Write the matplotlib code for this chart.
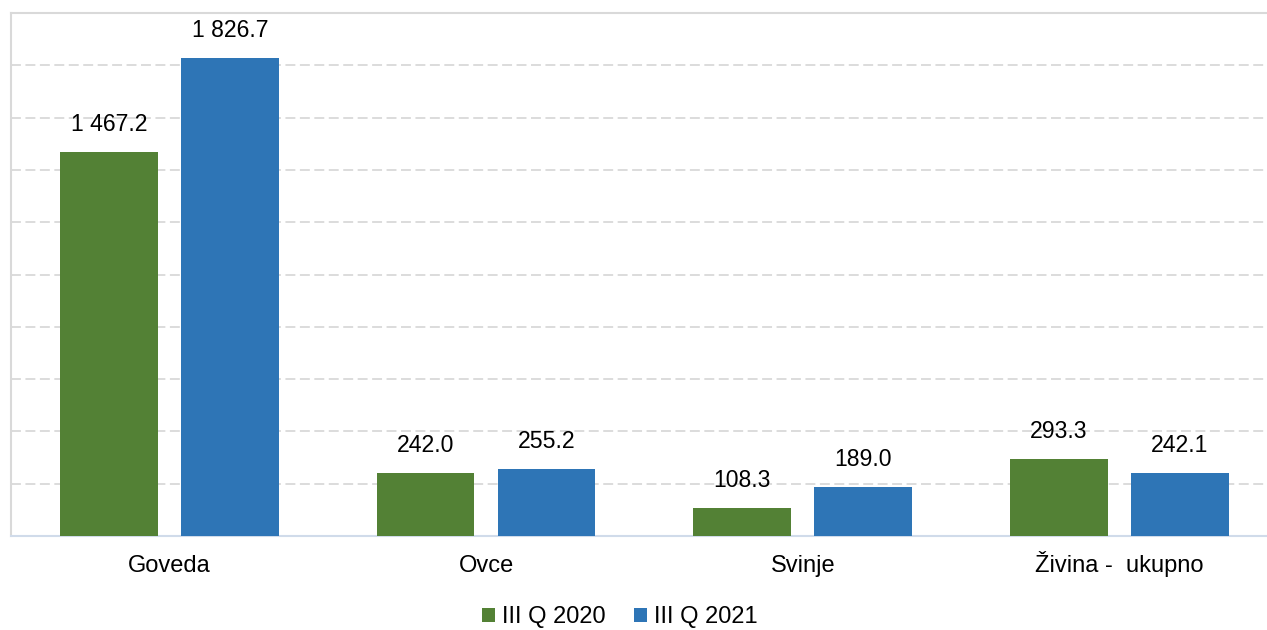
import matplotlib
matplotlib.use("Agg")
import matplotlib.pyplot as plt
import numpy as np
from matplotlib.patches import Patch

categories = ["Goveda", "Ovce", "Svinje", "Živina -  ukupno"]
series_names = ["III Q 2020", "III Q 2021"]
values_2020 = [1467.2, 242.0, 108.3, 293.3]
values_2021 = [1826.7, 255.2, 189.0, 242.1]
colors = ["#538135", "#2E75B6"]

def fmt(v):
    s = f"{v:,.1f}".replace(",", " ")
    return s

plt.rcParams['font.family'] = ['Liberation Sans', 'DejaVu Sans']

W, H = 1267, 630
fig = plt.figure(figsize=(W / 100, H / 100), dpi=100)
ax_left, ax_right = 11, 11 + 4 * 316.7
ax_bottom, ax_top = 536, 13
ax = fig.add_axes([ax_left / W, (H - ax_bottom) / H, (ax_right - ax_left) / W, (ax_bottom - ax_top) / H])

x = np.arange(len(categories))
bw = 0.309
off = 0.191
for vals, sgn, c in [(values_2020, -1, colors[0]), (values_2021, 1, colors[1])]:
    bars = ax.bar(x + sgn * off, vals, width=bw, color=c, zorder=3)
    for b, v in zip(bars, vals):
        ax.annotate(fmt(v), (b.get_x() + b.get_width() / 2, v), xytext=(0, 11.5),
                    textcoords="offset points", ha="center", va="bottom",
                    fontsize=16.6, color="#000000")

ax.set_xlim(-0.5, 3.5)
ax.set_ylim(0, 2000)
ax.set_yticks(np.arange(200, 2001, 200))
ax.yaxis.grid(True, color="#D9D9D9", linestyle=(0, (5.5, 2.5)), linewidth=1.3, zorder=0)
ax.tick_params(axis="y", left=False, labelleft=False)
ax.set_xticks(x)
ax.set_xticklabels(categories, fontsize=17, va="baseline")
ax.tick_params(axis="x", length=0, pad=26)
for lbl in ax.get_xticklabels():
    lbl.set_x(lbl.get_position()[0])
for s in ["left", "top", "right"]:
    ax.spines[s].set_color("#D9D9D9")
    ax.spines[s].set_linewidth(1.5)
ax.spines["bottom"].set_color("#D0DBEA")
ax.spines["bottom"].set_linewidth(1.5)

handles = [Patch(facecolor=c, label=n) for c, n in zip(colors, series_names)]
fig.legend(handles=handles, loc="center", bbox_to_anchor=(620 / W, 1 - 617 / H), ncol=2,
           frameon=False, fontsize=17, handlelength=0.55, handleheight=0.55,
           handletextpad=0.3, columnspacing=1.2)

fig.savefig("out.png", dpi=100)
